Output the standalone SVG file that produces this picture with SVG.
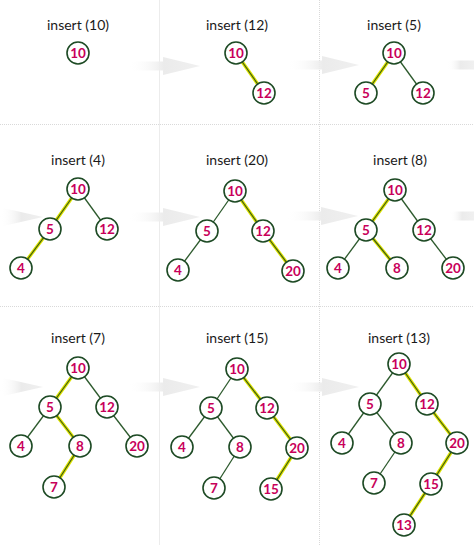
<svg xmlns="http://www.w3.org/2000/svg" width="474" height="553" viewBox="0 0 474 553">
<style>
.bg{fill:#ffffff}
.div{stroke:#d9d9d9;stroke-width:1;stroke-dasharray:1 1;fill:none}
.vsolid{stroke:#ececec;stroke-width:1;fill:none}
.title{font-family:Lato,"Open Sans",sans-serif;font-size:14px;fill:#1a1a1a;text-anchor:middle}
.n circle{fill:#ffffff;stroke:#1d4a24;stroke-width:1.6}
.n text{font-family:Lato,"Open Sans",sans-serif;font-size:13.5px;font-weight:bold;fill:#c8005a;text-anchor:middle}
.e{stroke:#2d5a2d;stroke-width:1.3;fill:none}
.hg{stroke:#dde400;stroke-width:3.4;fill:none;stroke-linecap:round}
.hc{stroke:#3d5a14;stroke-width:1.2;fill:none}
.arr{fill:url(#ag)}
</style>
<defs>
<linearGradient id="ag" x1="0" y1="0" x2="1" y2="0">
<stop offset="0" stop-color="#ffffff" stop-opacity="0"/>
<stop offset="0.5" stop-color="#ebebeb"/>
<stop offset="1" stop-color="#f0f0f0"/>
</linearGradient>
<path id="arrow" d="M0,-4.5 H35 V-9 L72,0 L35,9 V4.5 H0 Z"/>
</defs>
<rect class="bg" x="0" y="0" width="474" height="553"/>
<g id="dividers">
<line class="div" x1="0" y1="124.5" x2="474" y2="124.5"/>
<line class="div" x1="0" y1="306.5" x2="474" y2="306.5"/>
<line class="vsolid" x1="159.5" y1="0" x2="159.5" y2="545"/>
<line class="div" x1="319.5" y1="0" x2="319.5" y2="545"/>
</g>
<g id="flow-arrows">
<use href="#arrow" class="arr" transform="translate(128,66)"/>
<use href="#arrow" class="arr" transform="translate(287,65)"/>
<rect class="arr" x="447" y="60.5" width="27" height="9"/>
<path class="arr" d="M0,212.5 H3 V208 L43,217 L3,226 V221.5 H0 Z"/>
<use href="#arrow" class="arr" transform="translate(128,217)"/>
<use href="#arrow" class="arr" transform="translate(286,216)"/>
<rect class="arr" x="450" y="211.5" width="24" height="9"/>
<path class="arr" d="M0,382.5 H3 V378 L43,387 L3,396 V391.5 H0 Z"/>
<use href="#arrow" class="arr" transform="translate(128,387)"/>
<use href="#arrow" class="arr" transform="translate(287,387)"/>
</g>
<g id="titles">
<text class="title" x="78" y="30">insert (10)</text>
<text class="title" x="237" y="30">insert (12)</text>
<text class="title" x="394" y="30">insert (5)</text>
<text class="title" x="78" y="165">insert (4)</text>
<text class="title" x="237" y="165">insert (20)</text>
<text class="title" x="400" y="165">insert (8)</text>
<text class="title" x="78" y="343">insert (7)</text>
<text class="title" x="237" y="343">insert (15)</text>
<text class="title" x="399" y="343">insert (13)</text>
</g>
<g id="connectors">
<line class="hg" x1="236" y1="53" x2="264" y2="93"/><line class="hc" x1="236" y1="53" x2="264" y2="93"/>
<line class="hg" x1="394" y1="53" x2="366" y2="93"/><line class="hc" x1="394" y1="53" x2="366" y2="93"/>
<line class="e" x1="394" y1="53" x2="423" y2="93"/>
<line class="hg" x1="78" y1="189" x2="50" y2="229"/><line class="hc" x1="78" y1="189" x2="50" y2="229"/>
<line class="hg" x1="50" y1="229" x2="21" y2="268"/><line class="hc" x1="50" y1="229" x2="21" y2="268"/>
<line class="e" x1="78" y1="189" x2="107" y2="229"/>
<line class="e" x1="235" y1="191" x2="207" y2="231"/>
<line class="e" x1="207" y1="231" x2="178" y2="270"/>
<line class="hg" x1="235" y1="191" x2="263" y2="231"/><line class="hc" x1="235" y1="191" x2="263" y2="231"/>
<line class="hg" x1="263" y1="231" x2="293" y2="271"/><line class="hc" x1="263" y1="231" x2="293" y2="271"/>
<line class="hg" x1="395" y1="190" x2="366" y2="230"/><line class="hc" x1="395" y1="190" x2="366" y2="230"/>
<line class="hg" x1="366" y1="230" x2="397" y2="268"/><line class="hc" x1="366" y1="230" x2="397" y2="268"/>
<line class="e" x1="366" y1="230" x2="338" y2="268"/>
<line class="e" x1="395" y1="190" x2="424" y2="230"/>
<line class="e" x1="424" y1="230" x2="453" y2="268"/>
<line class="hg" x1="78" y1="368" x2="50" y2="407"/><line class="hc" x1="78" y1="368" x2="50" y2="407"/>
<line class="hg" x1="50" y1="407" x2="80" y2="446"/><line class="hc" x1="50" y1="407" x2="80" y2="446"/>
<line class="hg" x1="80" y1="446" x2="54" y2="487"/><line class="hc" x1="80" y1="446" x2="54" y2="487"/>
<line class="e" x1="50" y1="407" x2="21" y2="446"/>
<line class="e" x1="78" y1="368" x2="107" y2="407"/>
<line class="e" x1="107" y1="407" x2="137" y2="446"/>
<line class="hg" x1="237" y1="369" x2="267" y2="408"/><line class="hc" x1="237" y1="369" x2="267" y2="408"/>
<line class="hg" x1="267" y1="408" x2="297" y2="448"/><line class="hc" x1="267" y1="408" x2="297" y2="448"/>
<line class="hg" x1="297" y1="448" x2="271" y2="489"/><line class="hc" x1="297" y1="448" x2="271" y2="489"/>
<line class="e" x1="237" y1="369" x2="211" y2="408"/>
<line class="e" x1="211" y1="408" x2="182" y2="447"/>
<line class="e" x1="211" y1="408" x2="240" y2="447"/>
<line class="e" x1="240" y1="447" x2="214" y2="488"/>
<line class="hg" x1="399" y1="364" x2="427" y2="404"/><line class="hc" x1="399" y1="364" x2="427" y2="404"/>
<line class="hg" x1="427" y1="404" x2="457" y2="443"/><line class="hc" x1="427" y1="404" x2="457" y2="443"/>
<line class="hg" x1="457" y1="443" x2="431" y2="484"/><line class="hc" x1="457" y1="443" x2="431" y2="484"/>
<line class="hg" x1="431" y1="484" x2="404" y2="525"/><line class="hc" x1="431" y1="484" x2="404" y2="525"/>
<line class="e" x1="399" y1="364" x2="370" y2="404"/>
<line class="e" x1="370" y1="404" x2="342" y2="443"/>
<line class="e" x1="370" y1="404" x2="401" y2="443"/>
<line class="e" x1="401" y1="443" x2="374" y2="483"/>
</g>
<g id="p1-10" class="n"><circle cx="78" cy="53" r="11"/><text x="78" y="57.5">10</text></g>
<g id="p2-10" class="n"><circle cx="236" cy="53" r="11"/><text x="236" y="57.5">10</text></g>
<g id="p2-12" class="n"><circle cx="264" cy="93" r="11"/><text x="264" y="97.5">12</text></g>
<g id="p3-10" class="n"><circle cx="394" cy="53" r="11"/><text x="394" y="57.5">10</text></g>
<g id="p3-5" class="n"><circle cx="366" cy="93" r="11"/><text x="366" y="97.5">5</text></g>
<g id="p3-12" class="n"><circle cx="423" cy="93" r="11"/><text x="423" y="97.5">12</text></g>
<g id="p4-10" class="n"><circle cx="78" cy="189" r="11"/><text x="78" y="193.5">10</text></g>
<g id="p4-5" class="n"><circle cx="50" cy="229" r="11"/><text x="50" y="233.5">5</text></g>
<g id="p4-12" class="n"><circle cx="107" cy="229" r="11"/><text x="107" y="233.5">12</text></g>
<g id="p4-4" class="n"><circle cx="21" cy="268" r="11"/><text x="21" y="272.5">4</text></g>
<g id="p5-10" class="n"><circle cx="235" cy="191" r="11"/><text x="235" y="195.5">10</text></g>
<g id="p5-5" class="n"><circle cx="207" cy="231" r="11"/><text x="207" y="235.5">5</text></g>
<g id="p5-12" class="n"><circle cx="263" cy="231" r="11"/><text x="263" y="235.5">12</text></g>
<g id="p5-4" class="n"><circle cx="178" cy="270" r="11"/><text x="178" y="274.5">4</text></g>
<g id="p5-20" class="n"><circle cx="293" cy="271" r="11"/><text x="293" y="275.5">20</text></g>
<g id="p6-10" class="n"><circle cx="395" cy="190" r="11"/><text x="395" y="194.5">10</text></g>
<g id="p6-5" class="n"><circle cx="366" cy="230" r="11"/><text x="366" y="234.5">5</text></g>
<g id="p6-12" class="n"><circle cx="424" cy="230" r="11"/><text x="424" y="234.5">12</text></g>
<g id="p6-4" class="n"><circle cx="338" cy="268" r="11"/><text x="338" y="272.5">4</text></g>
<g id="p6-8" class="n"><circle cx="397" cy="268" r="11"/><text x="397" y="272.5">8</text></g>
<g id="p6-20" class="n"><circle cx="453" cy="268" r="11"/><text x="453" y="272.5">20</text></g>
<g id="p7-10" class="n"><circle cx="78" cy="368" r="11"/><text x="78" y="372.5">10</text></g>
<g id="p7-5" class="n"><circle cx="50" cy="407" r="11"/><text x="50" y="411.5">5</text></g>
<g id="p7-12" class="n"><circle cx="107" cy="407" r="11"/><text x="107" y="411.5">12</text></g>
<g id="p7-4" class="n"><circle cx="21" cy="446" r="11"/><text x="21" y="450.5">4</text></g>
<g id="p7-8" class="n"><circle cx="80" cy="446" r="11"/><text x="80" y="450.5">8</text></g>
<g id="p7-20" class="n"><circle cx="137" cy="446" r="11"/><text x="137" y="450.5">20</text></g>
<g id="p7-7" class="n"><circle cx="54" cy="487" r="11"/><text x="54" y="491.5">7</text></g>
<g id="p8-10" class="n"><circle cx="237" cy="369" r="11"/><text x="237" y="373.5">10</text></g>
<g id="p8-5" class="n"><circle cx="211" cy="408" r="11"/><text x="211" y="412.5">5</text></g>
<g id="p8-12" class="n"><circle cx="267" cy="408" r="11"/><text x="267" y="412.5">12</text></g>
<g id="p8-4" class="n"><circle cx="182" cy="447" r="11"/><text x="182" y="451.5">4</text></g>
<g id="p8-8" class="n"><circle cx="240" cy="447" r="11"/><text x="240" y="451.5">8</text></g>
<g id="p8-20" class="n"><circle cx="297" cy="448" r="11"/><text x="297" y="452.5">20</text></g>
<g id="p8-7" class="n"><circle cx="214" cy="488" r="11"/><text x="214" y="492.5">7</text></g>
<g id="p8-15" class="n"><circle cx="271" cy="489" r="11"/><text x="271" y="493.5">15</text></g>
<g id="p9-10" class="n"><circle cx="399" cy="364" r="11"/><text x="399" y="368.5">10</text></g>
<g id="p9-5" class="n"><circle cx="370" cy="404" r="11"/><text x="370" y="408.5">5</text></g>
<g id="p9-12" class="n"><circle cx="427" cy="404" r="11"/><text x="427" y="408.5">12</text></g>
<g id="p9-4" class="n"><circle cx="342" cy="443" r="11"/><text x="342" y="447.5">4</text></g>
<g id="p9-8" class="n"><circle cx="401" cy="443" r="11"/><text x="401" y="447.5">8</text></g>
<g id="p9-20" class="n"><circle cx="457" cy="443" r="11"/><text x="457" y="447.5">20</text></g>
<g id="p9-7" class="n"><circle cx="374" cy="483" r="11"/><text x="374" y="487.5">7</text></g>
<g id="p9-15" class="n"><circle cx="431" cy="484" r="11"/><text x="431" y="488.5">15</text></g>
<g id="p9-13" class="n"><circle cx="404" cy="525" r="11"/><text x="404" y="529.5">13</text></g>
</svg>
